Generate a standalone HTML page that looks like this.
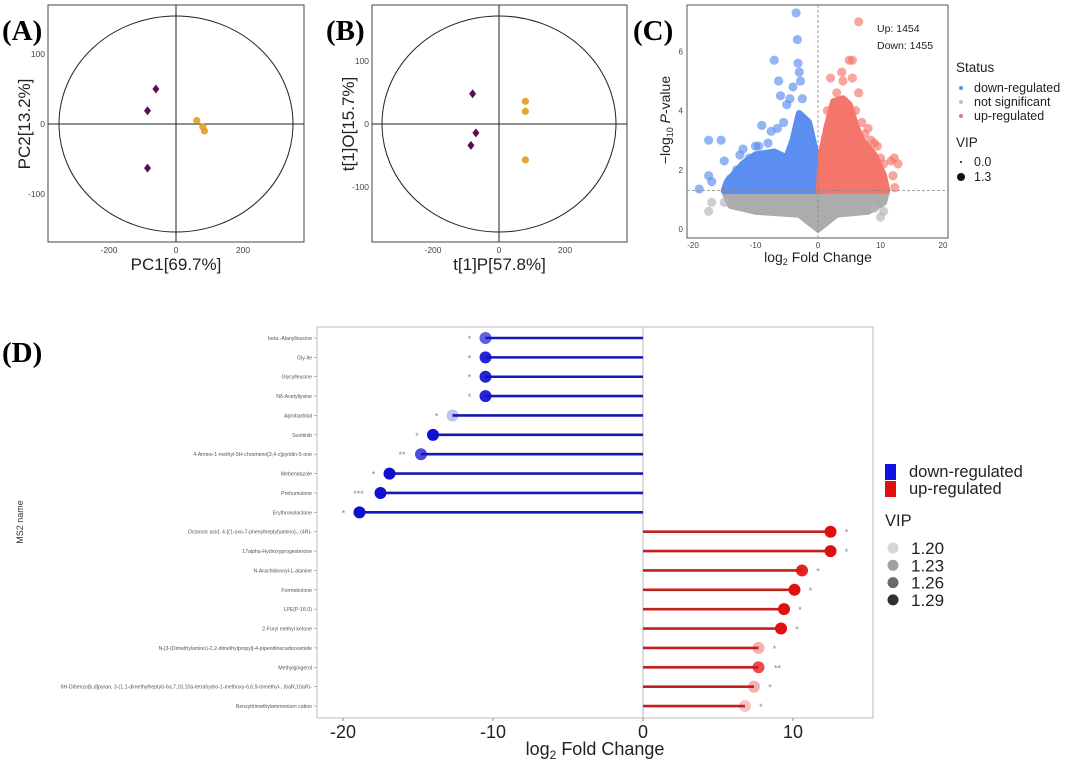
<!DOCTYPE html>
<html><head><meta charset="utf-8">
<style>
html,body{margin:0;padding:0;background:#fff;}
svg{display:block;font-family:"Liberation Sans",sans-serif;}
.lbl{font-family:"Liberation Serif",serif;font-weight:bold;font-size:29px;}
</style></head>
<body>
<svg id="fig" width="1080" height="764" viewBox="0 0 1080 764" xmlns="http://www.w3.org/2000/svg">
<rect width="1080" height="764" fill="#fff"/>
<text class="lbl" x="2" y="40">(A)</text>
<text class="lbl" x="326" y="40">(B)</text>
<text class="lbl" x="633" y="40">(C)</text>
<text class="lbl" x="2" y="362">(D)</text>
<g id="gA"></g>
<g id="gB"></g>
<g id="gC"></g>
<g id="gD"></g>
</svg>
<script>
// ---- Panel A data (PCA)
const aGroup1X = [-60, -85, -85];
const aGroup1Y = [50, 19, -63];
const aGroup2X = [62, 80, 85];
const aGroup2Y = [5, -4, -10];
const aTicksX = [-200, 0, 200];
const aTicksY = [-100, 0, 100];
// ---- Panel B data (OPLS-DA)
const bGroup1X = [-80, -70, -85];
const bGroup1Y = [48, -14, -34];
const bGroup2X = [80, 80, 80];
const bGroup2Y = [36, 20, -57];
const bTicksX = [-200, 0, 200];
const bTicksY = [-100, 0, 100];
// ---- Panel C data (volcano)
const cDownEnvX = [-15, -14.5, -12, -10, -7, -5, -4, -3, -1.5, -0.3, 0];
const cDownEnvY = [1.3, 1.6, 2.2, 2.5, 2.6, 2.4, 3.0, 3.9, 3.6, 2.5, 1.3];
const cUpEnvX = [0.2, 0.5, 1.5, 2.5, 4, 5, 6, 7, 9, 10.5, 11];
const cUpEnvY = [1.3, 2.5, 3.5, 4.3, 4.4, 4.2, 3.5, 3.0, 2.5, 1.8, 1.3];
const cNsEnvX = [-15, 11, 10.5, 8, 3, 0, -3, -10, -14];
const cNsEnvY = [1.3, 1.3, 0.9, 0.6, 0.5, 0, 0.5, 0.6, 0.8];
const cDownX = [-3.5, -3.3, -7, -6.3, -3.2, -3, -2.8, -6, -12, -17.5, -15.5, -17.5, -19, -17, -15, -9, -10, -4, -5, -13, -11, -8, -14, -9.5, -7.5, -6.5, -5.5, -2.5, -4.5, -12.5];
const cDownY = [7.3, 6.4, 5.7, 5.0, 5.6, 5.3, 5.0, 4.5, 2.7, 3.0, 3.0, 1.8, 1.35, 1.6, 2.3, 3.5, 2.8, 4.8, 4.2, 2.0, 2.4, 2.9, 1.7, 2.8, 3.3, 3.4, 3.6, 4.4, 4.4, 2.5];
const cUpX = [6.5, 5, 5.5, 3.8, 2, 5.5, 6.5, 12.2, 12.8, 12.3, 11.7, 12, 8, 7.5, 9.5, 4, 1.5, 10, 9, 3, 2.2, 7, 8.5, 10.5, 6];
const cUpY = [7.0, 5.7, 5.7, 5.3, 5.1, 5.1, 4.6, 2.4, 2.2, 1.4, 2.3, 1.8, 3.4, 3.2, 2.8, 5.0, 4.0, 2.4, 2.9, 4.6, 3.4, 3.6, 3.0, 2.2, 4.0];
const cNsX = [-17.5, -17, 10, 10.5, -15, 9];
const cNsY = [0.6, 0.9, 0.4, 0.6, 0.9, 0.7];
const cTicksX = [-20, -10, 0, 10, 20];
const cTicksY = [0, 2, 4, 6];
// ---- Panel D data (lollipop)
const dNames = ["beta.-Alanylleucine","Gly-Ile","Glycylleucine","N6-Acetyllysine","Aprobarbital","Sunitinib","4-Amino-1-methyl-5H-chromeno[3,4-c]pyridin-5-one","Mebendazole","Prehumulone","Erythronolactone","Octanoic acid, 4-[(1-oxo-7-phenylheptyl)amino]-, (4R)-","17alpha-Hydroxyprogesterone","N-Arachidonoyl-L-alanine","Formebolone","LPE(P-16:0)","2-Furyl methyl ketone","N-[3-(Dimethylamino)-2,2-dimethylpropyl]-4-piperidinecarboxamide","Methylgingerol","6H-Dibenzo[b,d]pyran, 3-(1,1-dimethylheptyl)-6a,7,10,10a-tetrahydro-1-methoxy-6,6,9-trimethyl-, (6aR,10aR)-","Benzyltrimethylammonium cation"];
const dFold = [-10.5,-10.5,-10.5,-10.5,-12.7,-14.0,-14.8,-16.9,-17.5,-18.9,12.5,12.5,10.6,10.1,9.4,9.2,7.7,7.7,7.4,6.8];
const dVip = [1.25,1.28,1.28,1.28,1.20,1.29,1.26,1.29,1.29,1.29,1.29,1.29,1.28,1.29,1.29,1.29,1.21,1.26,1.21,1.20];
const dStars = ["*","*","*","*","*","*","**","*","***","*","*","*","*","*","*","*","*","**","*","*"];
const dTicks = [-20, -10, 0, 10];
const dVipLegend = [1.20, 1.23, 1.26, 1.29];

const NS = "http://www.w3.org/2000/svg";
function mk(parent, tag, attrs, text) {
  const e = document.createElementNS(NS, tag);
  for (const k in attrs) e.setAttribute(k, attrs[k]);
  if (text !== undefined) e.textContent = text;
  parent.appendChild(e);
  return e;
}

function scorePanel(g, cfg, g1x, g1y, g2x, g2y, tx, ty) {
  const sx = v => cfg.x0 + v * cfg.kx;
  const sy = v => cfg.y0 - v * cfg.ky;
  let e = mk(g, "rect", {x: cfg.l, y: cfg.t, width: cfg.r - cfg.l, height: cfg.b - cfg.t, fill: "none", stroke: "#444", "stroke-width": 1});
  
  
  e = mk(g, "ellipse", {cx: cfg.x0, cy: cfg.y0, rx: cfg.rx, ry: cfg.ry, fill: "none", stroke: "#222", "stroke-width": 1});
  
  
  e = mk(g, "line", {x1: cfg.l, x2: cfg.r, y1: cfg.y0, y2: cfg.y0, stroke: "#222"});
  
  
  e = mk(g, "line", {x1: cfg.x0, x2: cfg.x0, y1: cfg.t, y2: cfg.b, stroke: "#222"});
  
  
  tx.forEach(v => {
    const t = mk(g, "text", {x: sx(v), y: cfg.b + 11, "font-size": 8.5, "text-anchor": "middle", fill: "#444"}, String(v));
    
    
  });
  ty.forEach(v => {
    const t = mk(g, "text", {x: cfg.l - 3, y: sy(v) + 3, "font-size": 8.5, "text-anchor": "end", fill: "#444"}, String(v));
    
    
  });
  g1x.forEach((v, i) => {
    const x = sx(v), y = sy(g1y[i]);
    const p = mk(g, "polygon", {points: `${x},${y-4.5} ${x+3.5},${y} ${x},${y+4.5} ${x-3.5},${y}`, fill: "#5a1050"});
    
    
  });
  g2x.forEach((v, i) => {
    const c = mk(g, "circle", {cx: sx(v), cy: sy(g2y[i]), r: 3.6, fill: "#e0a020", opacity: 0.9});
    
    
  });
  let t = mk(g, "text", {x: (cfg.l + cfg.r) / 2, y: 270, "font-size": 17, "text-anchor": "middle", fill: "#222"}, cfg.xt);
  
  
  t = mk(g, "text", {x: 0, y: 0, "font-size": 17, "text-anchor": "middle", fill: "#222", transform: `translate(${cfg.l - 18},${cfg.y0}) rotate(-90)`}, cfg.yt);
  
  
}
scorePanel(document.getElementById("gA"), {l:48,r:304,t:5,b:242,x0:176,y0:124,kx:67/200,ky:70/100,rx:117,ry:108,xt:"PC1[69.7%]",yt:"PC2[13.2%]"}, aGroup1X, aGroup1Y, aGroup2X, aGroup2Y, aTicksX, aTicksY);
scorePanel(document.getElementById("gB"), {l:372,r:627,t:5,b:242,x0:499,y0:124,kx:66/200,ky:63/100,rx:117,ry:108,xt:"t[1]P[57.8%]",yt:"t[1]O[15.7%]"}, bGroup1X, bGroup1Y, bGroup2X, bGroup2Y, bTicksX, bTicksY);

(function(){
  const g = document.getElementById("gC");
  const L=687,R=948,T=5,B=238;
  const sx = v => 818 + v * 6.25;
  const sy = v => 229 - v * 29.6;
  let e = mk(g, "rect", {x:L,y:T,width:R-L,height:B-T,fill:"none",stroke:"#555"});
  
  
  function poly(xs, ys, fill, name) {
    const pts = xs.map((v,i)=>sx(v)+","+sy(ys[i])).join(" ");
    const p = mk(g, "polygon", {points: pts, fill: fill, stroke: fill, "stroke-width": 7, "stroke-linejoin": "round"});
    
    
  }
  poly(cNsEnvX, cNsEnvY, "#acacac", "not-significant-cloud");
  poly(cDownEnvX, cDownEnvY, "#5b8ef0", "down-regulated-cloud");
  poly(cUpEnvX, cUpEnvY, "#f4756a", "up-regulated-cloud");
  function pts(xs, ys, fill, name) {
    xs.forEach((v,i)=>{
      const c = mk(g, "circle", {cx: sx(v), cy: sy(ys[i]), r: 4.6, fill: fill, opacity: 0.65});
      
      
    });
  }
  pts(cNsX, cNsY, "#b4b4b4", "not-significant-point");
  pts(cDownX, cDownY, "#5b8ef0", "down-regulated-point");
  pts(cUpX, cUpY, "#f4756a", "up-regulated-point");
  e = mk(g, "line", {x1:L,x2:R,y1:sy(1.3),y2:sy(1.3),stroke:"#888","stroke-dasharray":"3,2","stroke-width":0.8});
  
  
  e = mk(g, "line", {x1:sx(0),x2:sx(0),y1:T,y2:B,stroke:"#888","stroke-dasharray":"3,2","stroke-width":0.8});
  
  
  cTicksX.forEach(v=>{
    const t = mk(g,"text",{x:sx(v),y:B+10,"font-size":8,"text-anchor":"middle",fill:"#444"},String(v));
    
    
  });
  cTicksY.forEach(v=>{
    const t = mk(g,"text",{x:L-4,y:sy(v)+3,"font-size":8,"text-anchor":"end",fill:"#444"},String(v));
    
    
  });
  let t = mk(g,"text",{x:877,y:32,"font-size":10.5,fill:"#222"},"Up: 1454");
  
  
  t = mk(g,"text",{x:877,y:49,"font-size":10.5,fill:"#222"},"Down: 1455");
  
  
  t = mk(g,"text",{x:818,y:262,"font-size":14,"text-anchor":"middle",fill:"#222"});
  t.innerHTML = 'log<tspan font-size="9" dy="3">2</tspan><tspan dy="-3"> Fold Change</tspan>';
  
  
  t = mk(g,"text",{x:0,y:0,"font-size":14,"text-anchor":"middle",fill:"#222",transform:"translate(670,120) rotate(-90)"});
  t.innerHTML = '−log<tspan font-size="9" dy="3">10</tspan><tspan dy="-3"> </tspan><tspan font-style="italic">P</tspan>-value';
  
  
  t = mk(g,"text",{x:956,y:72,"font-size":13.5,fill:"#222"},"Status");
  
  
  const st = [["down-regulated","#5b8ef0",92],["not significant","#c0c0c0",106],["up-regulated","#e5787a",120]];
  st.forEach(s=>{
    const c = mk(g,"circle",{cx:961,cy:s[2]-4,r:2,fill:s[1]});
    
    
    const tt = mk(g,"text",{x:974,y:s[2],"font-size":12.5,fill:"#222"},s[0]);
    
    
  });
  t = mk(g,"text",{x:956,y:147,"font-size":13.5,fill:"#222"},"VIP");
  
  
  [["0.0",1,166],["1.3",4,181]].forEach(s=>{
    const c = mk(g,"circle",{cx:961,cy:s[2]-4,r:s[1],fill:"#111"});
    
    
    const tt = mk(g,"text",{x:974,y:s[2],"font-size":12.5,fill:"#222"},s[0]);
    
    
  });
})();

(function(){
  const g = document.getElementById("gD");
  const L=317,R=873,T=327,B=718;
  const sx = v => 643 + v * 15;
  const sy = i => 338 + i * 19.37;
  let e = mk(g,"rect",{x:L,y:T,width:R-L,height:B-T,fill:"none",stroke:"#bbb"});
  
  
  e = mk(g,"line",{x1:sx(0),x2:sx(0),y1:T,y2:B,stroke:"#bbb"});
  
  
  const alpha = v => Math.max(0.25, Math.min(1, 0.25 + (v - 1.20) / 0.09 * 0.75));
  dNames.forEach((n,i)=>{
    const y = sy(i), v = dFold[i], up = v > 0;
    const col = up ? "#e01010" : "#1010d0";
    let t = mk(g,"text",{x:L-5,y:y+2,"font-size":5.2,"text-anchor":"end",fill:"#555"},n);
    
    
    const tk = mk(g,"line",{x1:L-3,x2:L,y1:y,y2:y,stroke:"#888","stroke-width":0.6});
    
    
    const ln = mk(g,"line",{x1:sx(0),x2:sx(v),y1:y,y2:y,stroke:up?"#c02020":"#1818b0","stroke-width":2.6});
    
    
    const c = mk(g,"circle",{cx:sx(v),cy:y,r:6,fill:col,"fill-opacity":alpha(dVip[i])});
    
    
    const sxp = up ? sx(v) + 16 + (dStars[i].length-1)*3 : sx(v) - 16 - (dStars[i].length-1)*3;
    t = mk(g,"text",{x:sxp,y:y+4,"font-size":9,"text-anchor":"middle",fill:"#888"},dStars[i]);
    
    
  });
  dTicks.forEach(v=>{
    const tk = mk(g,"line",{x1:sx(v),x2:sx(v),y1:B,y2:B+3,stroke:"#888"});
    
    
    const t = mk(g,"text",{x:sx(v),y:B+20,"font-size":18,"text-anchor":"middle",fill:"#222"},String(v));
    
    
  });
  let t = mk(g,"text",{x:595,y:755,"font-size":18,"text-anchor":"middle",fill:"#222"});
  t.innerHTML = 'log<tspan font-size="12" dy="4">2</tspan><tspan dy="-4"> Fold Change</tspan>';
  
  
  t = mk(g,"text",{x:0,y:0,"font-size":9,"text-anchor":"middle",fill:"#333",transform:"translate(23,522) rotate(-90)"},"MS2 name");
  
  
  [["down-regulated","#1010e0",464],["up-regulated","#e01010",481]].forEach(s=>{
    const r = mk(g,"rect",{x:885,y:s[2],width:11,height:16,fill:s[1]});
    
    
    const tt = mk(g,"text",{x:909,y:s[2]+13,"font-size":16.5,fill:"#222"},s[0]);
    
    
  });
  t = mk(g,"text",{x:885,y:526,"font-size":16.5,fill:"#222"},"VIP");
  
  
  const greys = ["#d6d6d6","#a0a0a0","#6a6a6a","#303030"];
  dVipLegend.forEach((v,i)=>{
    const y = 548 + i * 17.3;
    const c = mk(g,"circle",{cx:893,cy:y,r:5.5,fill:greys[i]});
    
    
    const tt = mk(g,"text",{x:911,y:y+6,"font-size":17,fill:"#222"},v.toFixed(2));
    
    
  });
})();
</script>
</body></html>
